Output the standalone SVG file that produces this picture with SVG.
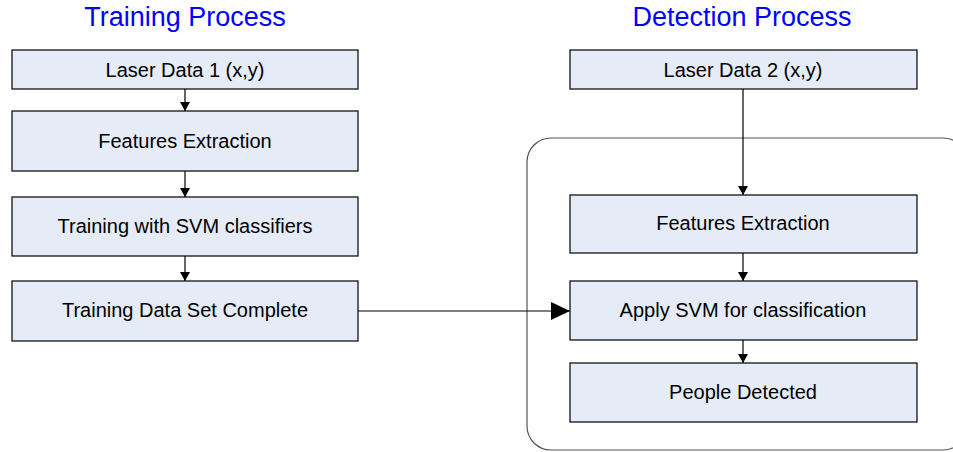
<svg xmlns="http://www.w3.org/2000/svg" width="953" height="452" viewBox="0 0 953 452">
<style>
.box{fill:#E5ECF7;stroke:#000;stroke-width:1.2}
.lbl{font-family:"Liberation Sans",Arial,sans-serif;font-size:20px;fill:#000;text-anchor:middle}
.title{font-family:"Liberation Sans",Arial,sans-serif;font-size:27px;fill:#0000FF;text-anchor:middle}
.conn{stroke:#000;stroke-width:1.2;fill:none}
</style>
<defs>
<marker id="sm" markerWidth="10" markerHeight="10" refX="9" refY="5" orient="auto" markerUnits="userSpaceOnUse">
<path d="M0,0 L9,5 L0,10 Z" fill="#000"/>
</marker>
<marker id="lg" markerWidth="20" markerHeight="18" refX="19" refY="9" orient="auto" markerUnits="userSpaceOnUse">
<path d="M0,0 L19,9 L0,18 Z" fill="#000"/>
</marker>
</defs>
<text class="title" x="185" y="26">Training Process</text>
<text class="title" x="742" y="26">Detection Process</text>
<g id="container">
<rect x="527" y="138" width="440" height="312" rx="24" ry="24" fill="none" stroke="#555" stroke-width="1.2"/>
</g>
<g id="connectors">
<line class="conn" x1="185" y1="89" x2="185" y2="111" marker-end="url(#sm)"/>
<line class="conn" x1="185" y1="171" x2="185" y2="197" marker-end="url(#sm)"/>
<line class="conn" x1="185" y1="256" x2="185" y2="281" marker-end="url(#sm)"/>
<line class="conn" x1="358" y1="311" x2="570" y2="311" stroke="#555" marker-end="url(#lg)"/>
<line class="conn" x1="743" y1="89" x2="743" y2="195" marker-end="url(#sm)"/>
<line class="conn" x1="743" y1="253" x2="743" y2="281" marker-end="url(#sm)"/>
<line class="conn" x1="743" y1="340" x2="743" y2="363" marker-end="url(#sm)"/>
</g>
<g id="laser1"><rect class="box" x="12" y="50" width="346" height="39"/><text class="lbl" x="185" y="76.5">Laser Data 1 (x,y)</text></g>
<g id="feat1"><rect class="box" x="12" y="111" width="346" height="60"/><text class="lbl" x="185" y="147.5">Features Extraction</text></g>
<g id="train"><rect class="box" x="12" y="197" width="346" height="59"/><text class="lbl" x="185" y="232.5">Training with SVM classifiers</text></g>
<g id="dataset"><rect class="box" x="12" y="281" width="346" height="60"/><text class="lbl" x="185" y="317">Training Data Set Complete</text></g>
<g id="laser2"><rect class="box" x="570" y="50" width="347" height="39"/><text class="lbl" x="743" y="76.5">Laser Data 2 (x,y)</text></g>
<g id="feat2"><rect class="box" x="570" y="195" width="347" height="58"/><text class="lbl" x="743" y="230">Features Extraction</text></g>
<g id="apply"><rect class="box" x="570" y="281" width="347" height="59"/><text class="lbl" x="743" y="316.5">Apply SVM for classification</text></g>
<g id="people"><rect class="box" x="570" y="363" width="347" height="59"/><text class="lbl" x="743" y="398.5">People Detected</text></g>
</svg>
